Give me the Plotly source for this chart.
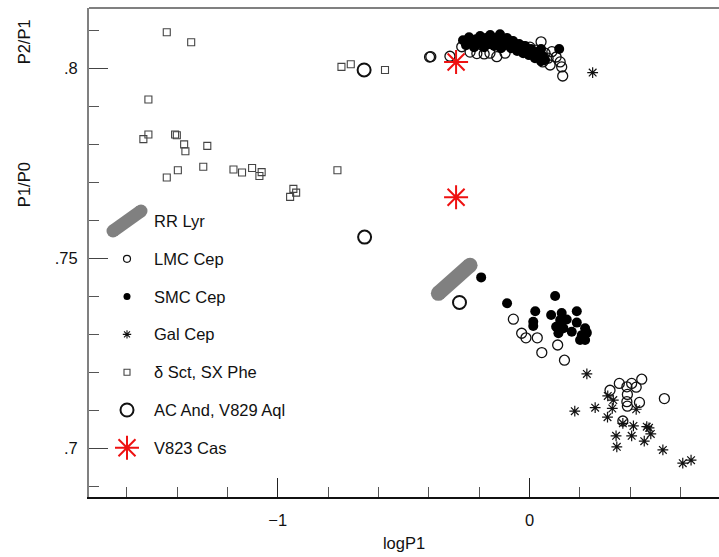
import plotly.graph_objects as go

# ---------------- data ----------------
rr_x = [-0.362, -0.236]
rr_y = [0.7408, 0.7482]

lmc_x = [-0.397, -0.392, -0.316, -0.269, -0.236, -0.209, -0.180, -0.157, -0.130, -0.097,
         -0.070, -0.024, 0.002, 0.026, 0.046, 0.062, 0.089, 0.106, 0.053, 0.082,
         0.122, 0.128, 0.132, 0.074,
         -0.064, -0.031, -0.014, 0.031, 0.049, 0.112, 0.139,
         0.320, 0.357, 0.387, 0.406, 0.424, 0.446, 0.389, 0.387, 0.389, 0.437, 0.536, 0.371]
lmc_y = [0.8030, 0.8031, 0.8032, 0.8057, 0.8043, 0.8039, 0.8038, 0.8040, 0.8031, 0.8040,
         0.8070, 0.8057, 0.8056, 0.8048, 0.8070, 0.8040, 0.8044, 0.8030, 0.8017, 0.8009,
         0.8017, 0.8004, 0.7980, 0.8027,
         0.7340, 0.7303, 0.7291, 0.7291, 0.7252, 0.7272, 0.7232,
         0.7153, 0.7171, 0.7162, 0.7171, 0.7161, 0.7182, 0.7142, 0.7123, 0.7111, 0.7121, 0.7131, 0.7072]

smc_x = [-0.264, -0.252, -0.240, -0.232, -0.220, -0.212, -0.204, -0.196, -0.188, -0.180,
         -0.172, -0.164, -0.156, -0.148, -0.140, -0.132, -0.124, -0.117, -0.113, -0.105,
         -0.097, -0.089, -0.081, -0.073, -0.065, -0.057, -0.049, -0.041, -0.033, -0.025,
         -0.017, -0.009, -0.002, 0.006, 0.014, 0.022, 0.030, 0.038, 0.046, 0.054,
         0.046, 0.118, 0.062,
         -0.192, -0.089, 0.102, 0.023, 0.086, 0.128, 0.188, 0.015, 0.015, 0.122,
         0.148, 0.106, 0.135, 0.188, 0.221, 0.168, 0.115, 0.208, 0.228, 0.201, 0.221, 0.122]
smc_y = [0.8074, 0.8061, 0.8082, 0.8067, 0.8056, 0.8077, 0.8064, 0.8085, 0.8069, 0.8056,
         0.8080, 0.8064, 0.8088, 0.8074, 0.8059, 0.8080, 0.8067, 0.8090, 0.8053, 0.8074,
         0.8061, 0.8080, 0.8067, 0.8053, 0.8072, 0.8059, 0.8046, 0.8064, 0.8051, 0.8040,
         0.8059, 0.8046, 0.8035, 0.8051, 0.8038, 0.8027, 0.8043, 0.8030, 0.8019, 0.8032,
         0.8051, 0.8051, 0.8022,
         0.7450, 0.7382, 0.7401, 0.7361, 0.7351, 0.7356, 0.7361, 0.7333, 0.7322, 0.7338,
         0.7339, 0.7320, 0.7316, 0.7331, 0.7316, 0.7307, 0.7303, 0.7298, 0.7304, 0.7285, 0.7285, 0.7325]

gal_x = [0.251, 0.228, 0.180, 0.261, 0.311, 0.333, 0.329, 0.310, 0.371, 0.424, 0.413,
         0.344, 0.406, 0.466, 0.475, 0.482, 0.456, 0.347, 0.530, 0.609, 0.642]
gal_y = [0.7989, 0.7196, 0.7098, 0.7107, 0.7138, 0.7127, 0.7105, 0.7082, 0.7066, 0.7103, 0.7059,
         0.7033, 0.7033, 0.7057, 0.7054, 0.7038, 0.7019, 0.7004, 0.6996, 0.6961, 0.6969]

dsct_x = [-1.441, -1.344, -1.514, -1.534, -1.514, -1.408, -1.401, -1.372, -1.367, -1.280,
          -1.441, -1.397, -1.296, -1.176, -1.142, -1.102, -1.064, -1.073, -0.938, -0.927,
          -0.951, -0.763, -0.747, -0.710, -0.574]
dsct_y = [0.8095, 0.8069, 0.7918, 0.7814, 0.7826, 0.7826, 0.7824, 0.7800, 0.7782, 0.7796,
          0.7713, 0.7732, 0.7741, 0.7734, 0.7726, 0.7738, 0.7727, 0.7717, 0.7683, 0.7673,
          0.7662, 0.7732, 0.8004, 0.8011, 0.7996]

ac_x = [-0.657, -0.655, -0.278]
ac_y = [0.7996, 0.7556, 0.7384]

v823_x = [-0.2916, -0.2916]
v823_y = [0.8017, 0.7661]

legend_labels = ["RR Lyr", "LMC Cep", "SMC Cep", "Gal Cep", "δ Sct, SX Phe",
                 "AC And, V829 Aql", "V823 Cas"]

x_tickvals = [-1, 0]
x_ticktext = ["\u22121", "0"]
y_tickvals = [0.7, 0.75, 0.8]
y_ticktext = [".7", ".75", ".8"]

FONT = "Liberation Sans, Arial, Helvetica, sans-serif"
GRAY = "#808080"
FS = 16.5

fig = go.Figure()

# RR Lyr band (thick rounded line)
fig.add_trace(go.Scatter(x=rr_x, y=rr_y, mode="lines+markers",
                         line=dict(color=GRAY, width=15),
                         marker=dict(symbol="circle", size=15, color=GRAY),
                         showlegend=False, hoverinfo="skip"))
fig.add_trace(go.Scatter(x=lmc_x, y=lmc_y, mode="markers",
                         marker=dict(symbol="circle-open", size=10, color="#111",
                                     line=dict(width=1.3)), showlegend=False))
fig.add_trace(go.Scatter(x=smc_x, y=smc_y, mode="markers",
                         marker=dict(symbol="circle", size=10, color="#000"), showlegend=False))
fig.add_trace(go.Scatter(x=gal_x, y=gal_y, mode="markers",
                         marker=dict(symbol="asterisk-open", size=9, color="#111",
                                     line=dict(width=1.2)), showlegend=False))
fig.add_trace(go.Scatter(x=dsct_x, y=dsct_y, mode="markers",
                         marker=dict(symbol="square-open", size=7, color="#444",
                                     line=dict(width=1.1)), showlegend=False))
fig.add_trace(go.Scatter(x=ac_x, y=ac_y, mode="markers",
                         marker=dict(symbol="circle-open", size=13, color="#111",
                                     line=dict(width=2)), showlegend=False))
fig.add_trace(go.Scatter(x=v823_x, y=v823_y, mode="markers",
                         marker=dict(symbol="asterisk-open", size=20, color="#ee1111",
                                     line=dict(width=2)), showlegend=False))

# ---------------- manual legend on an overlay axis in pixel units ----------------
L_SYM_X = 127
L_TEXT_X = 152
L_Y0 = 221
L_DY = 37.8
ly = [L_Y0 + L_DY * i for i in range(len(legend_labels))]

fig.add_trace(go.Scatter(x=[L_SYM_X - 14, L_SYM_X + 14], y=[ly[0] + 10, ly[0] - 10],
                         xaxis="x2", yaxis="y2", mode="lines+markers",
                         line=dict(color=GRAY, width=13),
                         marker=dict(symbol="circle", size=13, color=GRAY),
                         showlegend=False, hoverinfo="skip"))
leg_styles = [
    dict(symbol="circle-open", size=7, color="#111", line=dict(width=1.2)),
    dict(symbol="circle", size=7, color="#000"),
    dict(symbol="asterisk-open", size=7, color="#111", line=dict(width=1.1)),
    dict(symbol="square-open", size=6, color="#444", line=dict(width=1.1)),
    dict(symbol="circle-open", size=13, color="#111", line=dict(width=2)),
    dict(symbol="asterisk-open", size=20, color="#ee1111", line=dict(width=2)),
]
for i, st in enumerate(leg_styles, start=1):
    fig.add_trace(go.Scatter(x=[L_SYM_X], y=[ly[i]], xaxis="x2", yaxis="y2",
                             mode="markers", marker=st, showlegend=False, hoverinfo="skip"))

annotations = []
for i, lab in enumerate(legend_labels):
    annotations.append(dict(x=L_TEXT_X, y=ly[i], xref="x2", yref="y2", text=lab,
                            showarrow=False, xanchor="left", yanchor="middle",
                            font=dict(family=FONT, size=FS, color="#111")))
annotations.append(dict(x=-0.103, y=0.930, xref="paper", yref="paper", text="P2/P1",
                        textangle=-90, showarrow=False, xanchor="center", yanchor="middle",
                        font=dict(family=FONT, size=FS, color="#111")))
annotations.append(dict(x=-0.103, y=0.638, xref="paper", yref="paper", text="P1/P0",
                        textangle=-90, showarrow=False, xanchor="center", yanchor="middle",
                        font=dict(family=FONT, size=FS, color="#111")))

fig.update_layout(
    width=719, height=557,
    margin=dict(l=89, r=0, t=8, b=60),
    paper_bgcolor="white", plot_bgcolor="white",
    font=dict(family=FONT, size=FS, color="#111"),
    showlegend=False,
    annotations=annotations,
    xaxis=dict(range=[-1.750, 0.753], tickmode="array", tickvals=x_tickvals,
               ticktext=x_ticktext, ticks="inside", ticklen=19, tickwidth=1,
               tickcolor="#222", showgrid=False, zeroline=False,
               showline=True, linecolor="#111", linewidth=1.5,
               minor=dict(ticks="inside", ticklen=10, tickwidth=1, tickcolor="#555",
                          tickmode="linear", tick0=0, dtick=0.2, showgrid=False),
               title=dict(text="logP1", font=dict(size=FS), standoff=10),
               ticklabelstandoff=7),
    yaxis=dict(range=[0.6872, 0.8159], tickmode="array", tickvals=y_tickvals,
               ticktext=y_ticktext, ticks="inside", ticklen=19, tickwidth=1,
               tickcolor="#444", showgrid=False, zeroline=False,
               showline=True, linecolor=GRAY, linewidth=2,
               minor=dict(ticks="inside", ticklen=10, tickwidth=1, tickcolor="#555",
                          tickmode="linear", tick0=0.7, dtick=0.01, showgrid=False),
               ticklabelstandoff=6),
    xaxis2=dict(range=[89, 719], overlaying="x", visible=False, fixedrange=True),
    yaxis2=dict(range=[497, 8], overlaying="y", visible=False, fixedrange=True),
    shapes=[dict(type="line", xref="paper", yref="paper", x0=0, x1=1, y0=1, y1=1,
                 line=dict(color=GRAY, width=2))],
)

fig.write_html("out.html")
